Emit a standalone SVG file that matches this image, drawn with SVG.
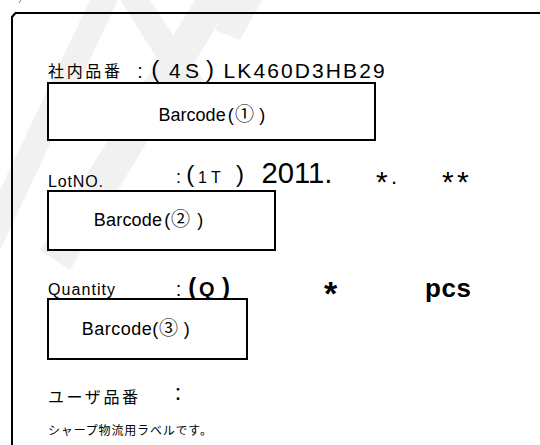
<svg xmlns="http://www.w3.org/2000/svg" width="540" height="445" viewBox="0 0 540 445">
<style>
.t{font-family:"Liberation Sans","Noto Sans CJK JP",sans-serif;fill:#000}
.j{font-family:"Noto Sans CJK JP","Liberation Sans",sans-serif;fill:#000}
.b{fill:#fff;stroke:#000;stroke-width:2}
.wm{fill:#f1f1f1}
</style>
<rect width="540" height="445" fill="#fff"/>
<g id="watermark">
<polygon class="wm" points="90,0 118,0 0,250 0,190"/>
<polygon class="wm" points="195,0 232,0 70,270 40,250"/>
<polygon class="wm" points="120,0 150,0 210,90 190,110"/>
<polygon class="wm" points="230,0 262,0 240,40 215,30"/>
</g>
<line x1="19" y1="3" x2="21" y2="0" stroke="#888" stroke-width="1"/>
<g id="frame">
<path d="M12,445 V17 L15.5,13 H540" fill="none" stroke="#000" stroke-width="2"/>
</g>
<g id="connectors"/>
<g id="part-number">
<text class="j" x="48" y="77" font-size="16" textLength="72" lengthAdjust="spacing">社内品番</text>
<text class="t" y="78"><tspan x="137.2" font-size="20">:</tspan><tspan x="151.3" y="77" font-size="24">(</tspan><tspan x="169" y="78" font-size="21">4</tspan><tspan x="185" font-size="21">S</tspan><tspan x="206" y="77" font-size="24">)</tspan><tspan x="223.5" y="78" font-size="21" letter-spacing="2.1">LK460D3HB29</tspan></text>
</g>
<g id="barcode1">
<rect class="b" x="48" y="83" width="327" height="57"/>
<text class="t" y="121" font-size="18"><tspan x="158.6">Barcode</tspan><tspan x="227.7">(</tspan><tspan x="235" font-size="19">①</tspan><tspan x="259.3">)</tspan></text>
</g>
<g id="lot-number">
<text class="t" x="48" y="187" font-size="16" textLength="55" lengthAdjust="spacing">LotNO.</text>
<text class="t" y="183"><tspan x="176" font-size="18">:</tspan><tspan x="186.3" y="182" font-size="24">(</tspan><tspan x="198" y="183" font-size="16">1</tspan><tspan x="211" font-size="16">T</tspan><tspan x="236" y="182" font-size="24">)</tspan></text>
<text class="t" x="261.5" y="183" font-size="30" textLength="71" lengthAdjust="spacingAndGlyphs">2011.</text>
<text class="t"><tspan x="376" y="192" font-size="30">*</tspan><tspan x="391" y="184" font-size="22">.</tspan></text>
<text class="t" font-size="30" y="192"><tspan x="442">*</tspan><tspan x="457">*</tspan></text>
</g>
<g id="barcode2">
<rect class="b" x="48" y="191" width="227" height="59"/>
<text class="t" y="226" font-size="18"><tspan x="93.8" letter-spacing="0.2">Barcode</tspan><tspan x="164.2">(</tspan><tspan x="171" font-size="19">②</tspan><tspan x="197.3">)</tspan></text>
</g>
<g id="quantity">
<text class="t" x="48" y="295" font-size="16" textLength="67" lengthAdjust="spacing">Quantity</text>
<text class="t" y="296"><tspan x="175.7" font-size="20">:</tspan><tspan x="188.3" y="295" font-size="24" font-weight="bold">(</tspan><tspan x="199" y="296" font-size="20" font-weight="bold">Q</tspan><tspan x="222" y="295" font-size="24" font-weight="bold">)</tspan></text>
<text class="t" x="324" y="305" font-size="34" font-weight="bold">*</text>
<text class="t" x="425" y="297" font-size="26" font-weight="bold" textLength="46" lengthAdjust="spacing">pcs</text>
</g>
<g id="barcode3">
<rect class="b" x="48" y="299" width="199" height="60"/>
<text class="t" y="335" font-size="18"><tspan x="81.7" letter-spacing="0.5">Barcode</tspan><tspan x="152.3">(</tspan><tspan x="159" font-size="19">③</tspan><tspan x="183.8">)</tspan></text>
</g>
<g id="user-number">
<text class="j" x="48" y="403" font-size="16" textLength="90" lengthAdjust="spacing">ユーザ品番</text>
<text class="j" x="169" y="401" font-size="18">：</text>
</g>
<g id="note">
<text class="j" x="48" y="435" font-size="12" textLength="164" lengthAdjust="spacing">シャープ物流用ラベルです。</text>
</g>
</svg>
